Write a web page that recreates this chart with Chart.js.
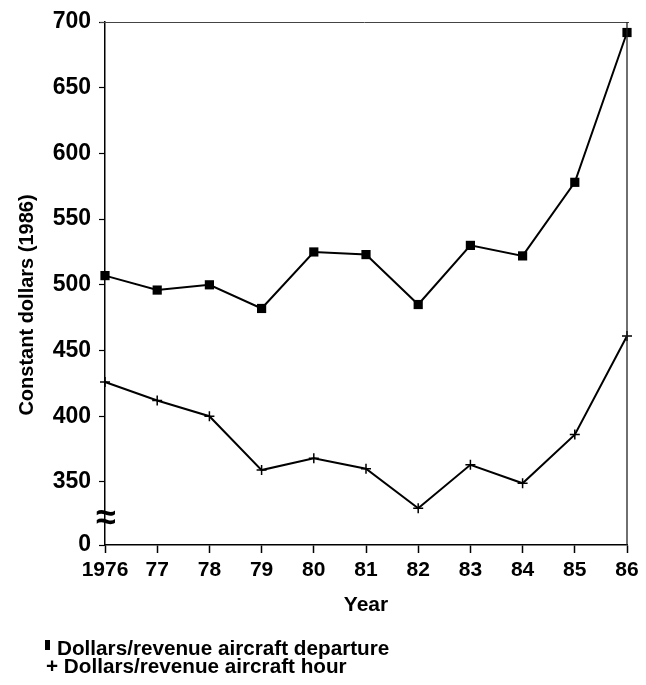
<!DOCTYPE html>
<html>
<head>
<meta charset="utf-8">
<script src="https://cdn.jsdelivr.net/npm/chart.js@4/dist/chart.umd.min.js"></script>
<style>
  html, body { margin: 0; padding: 0; background: #fff; }
  #wrap { width: 646px; height: 685px; position: relative; }
</style>
</head>
<body>
<div id="wrap"><canvas id="c" width="646" height="685"></canvas></div>
<script>
// ---- data ----
const years = ['1976', '77', '78', '79', '80', '81', '82', '83', '84', '85', '86'];
const perDeparture = [507, 496, 500, 482, 525, 523, 485, 530, 522, 578, 692];
const perHour = [426, 412, 400, 359, 368, 360, 330, 363, 349, 386, 461];
const yTickValues = [350, 400, 450, 500, 550, 600, 650, 700];
const yBreakLabel = '0';
const seriesNames = ['Dollars/revenue aircraft departure', 'Dollars/revenue aircraft hour'];
const xTitle = 'Year';
const yTitle = 'Constant dollars (1986)';

// ---- layout / style ----
const FONT = "'Liberation Sans', Arial, Helvetica, sans-serif";
const Y_MIN = 302;   // where the broken axis shows "0"
const Y_MAX = 700;

const extras = {
  id: 'extras',
  afterDraw(chart) {
    const ctx = chart.ctx;
    const a = chart.chartArea;
    ctx.save();
    // top and right frame lines
    ctx.strokeStyle = '#444';
    ctx.lineWidth = 1;
    ctx.beginPath();
    ctx.moveTo(100, a.top + 0.5);
    ctx.lineTo(a.right + 2, a.top + 0.5);
    ctx.stroke();
    ctx.strokeStyle = '#222';
    ctx.lineWidth = 1.3;
    ctx.beginPath();
    ctx.moveTo(a.right, a.top);
    ctx.lineTo(a.right, a.bottom);
    ctx.stroke();

    // axis break symbol
    ctx.fillStyle = '#000';
    ctx.font = 'bold 36px ' + FONT;
    ctx.textAlign = 'center';
    ctx.textBaseline = 'middle';
    ctx.fillText('\u2248', a.left + 1, a.bottom - 26);

    // y title
    ctx.save();
    ctx.translate(27, 305);
    ctx.rotate(-Math.PI / 2);
    ctx.font = 'bold 20px ' + FONT;
    ctx.textAlign = 'center';
    ctx.textBaseline = 'middle';
    ctx.fillText(yTitle, 0, 0);
    ctx.restore();

    // legend
    ctx.font = 'bold 20.7px ' + FONT;
    ctx.textAlign = 'left';
    ctx.textBaseline = 'alphabetic';
    ctx.fillRect(45, 640, 5, 10);
    ctx.fillText(chart.data.datasets[0].label, 57, 655);
    ctx.fillText('+ ' + chart.data.datasets[1].label, 46, 673);
    ctx.restore();
  }
};

new Chart(document.getElementById('c'), {
  type: 'line',
  data: {
    labels: years,
    datasets: [
      {
        label: seriesNames[0],
        data: perDeparture,
        borderColor: '#000',
        backgroundColor: '#000',
        borderWidth: 2,
        pointStyle: 'rect',
        pointRadius: 6.5,
        pointBorderWidth: 0,
        tension: 0,
        clip: false
      },
      {
        label: seriesNames[1],
        data: perHour,
        borderColor: '#000',
        backgroundColor: '#000',
        borderWidth: 2,
        pointStyle: 'cross',
        pointRadius: 5,
        pointBorderWidth: 1.5,
        tension: 0,
        clip: false
      }
    ]
  },
  options: {
    responsive: false,
    animation: false,
    layout: { padding: { top: 22, right: 19, bottom: 65, left: 0 } },
    plugins: { legend: { display: false }, tooltip: { enabled: false } },
    scales: {
      x: {
        type: 'category',
        offset: false,
        afterFit(s) { s.height = 75; },
        grid: { display: true, drawOnChartArea: false, drawTicks: true, tickLength: 8, tickColor: '#000', tickWidth: 1.5 },
        border: { display: true, color: '#000', width: 1.5 },
        ticks: { autoSkip: false, maxRotation: 0, color: '#000', padding: 5,
                 font: { family: FONT, size: 21, weight: 'bold' } },
        title: { display: true, text: xTitle, color: '#000', padding: { top: 0, bottom: 2 },
                 font: { family: FONT, size: 21, weight: 'bold' } }
      },
      y: {
        type: 'linear',
        min: Y_MIN,
        max: Y_MAX,
        afterFit(s) { s.width = 105; },
        afterBuildTicks(s) {
          s.ticks = [{ value: Y_MIN }].concat(yTickValues.map(v => ({ value: v })));
        },
        grid: { display: true, drawOnChartArea: false, drawTicks: true, tickLength: 6, tickColor: '#000', tickWidth: 1.2 },
        border: { display: true, color: '#000', width: 1.5 },
        ticks: {
          color: '#000', padding: 8,
          font: { family: FONT, size: 23, weight: 'bold' },
          callback(v) { return v === Y_MIN ? yBreakLabel : String(v); }
        },
        title: { display: false }
      }
    }
  },
  plugins: [extras]
});
</script>
</body>
</html>
